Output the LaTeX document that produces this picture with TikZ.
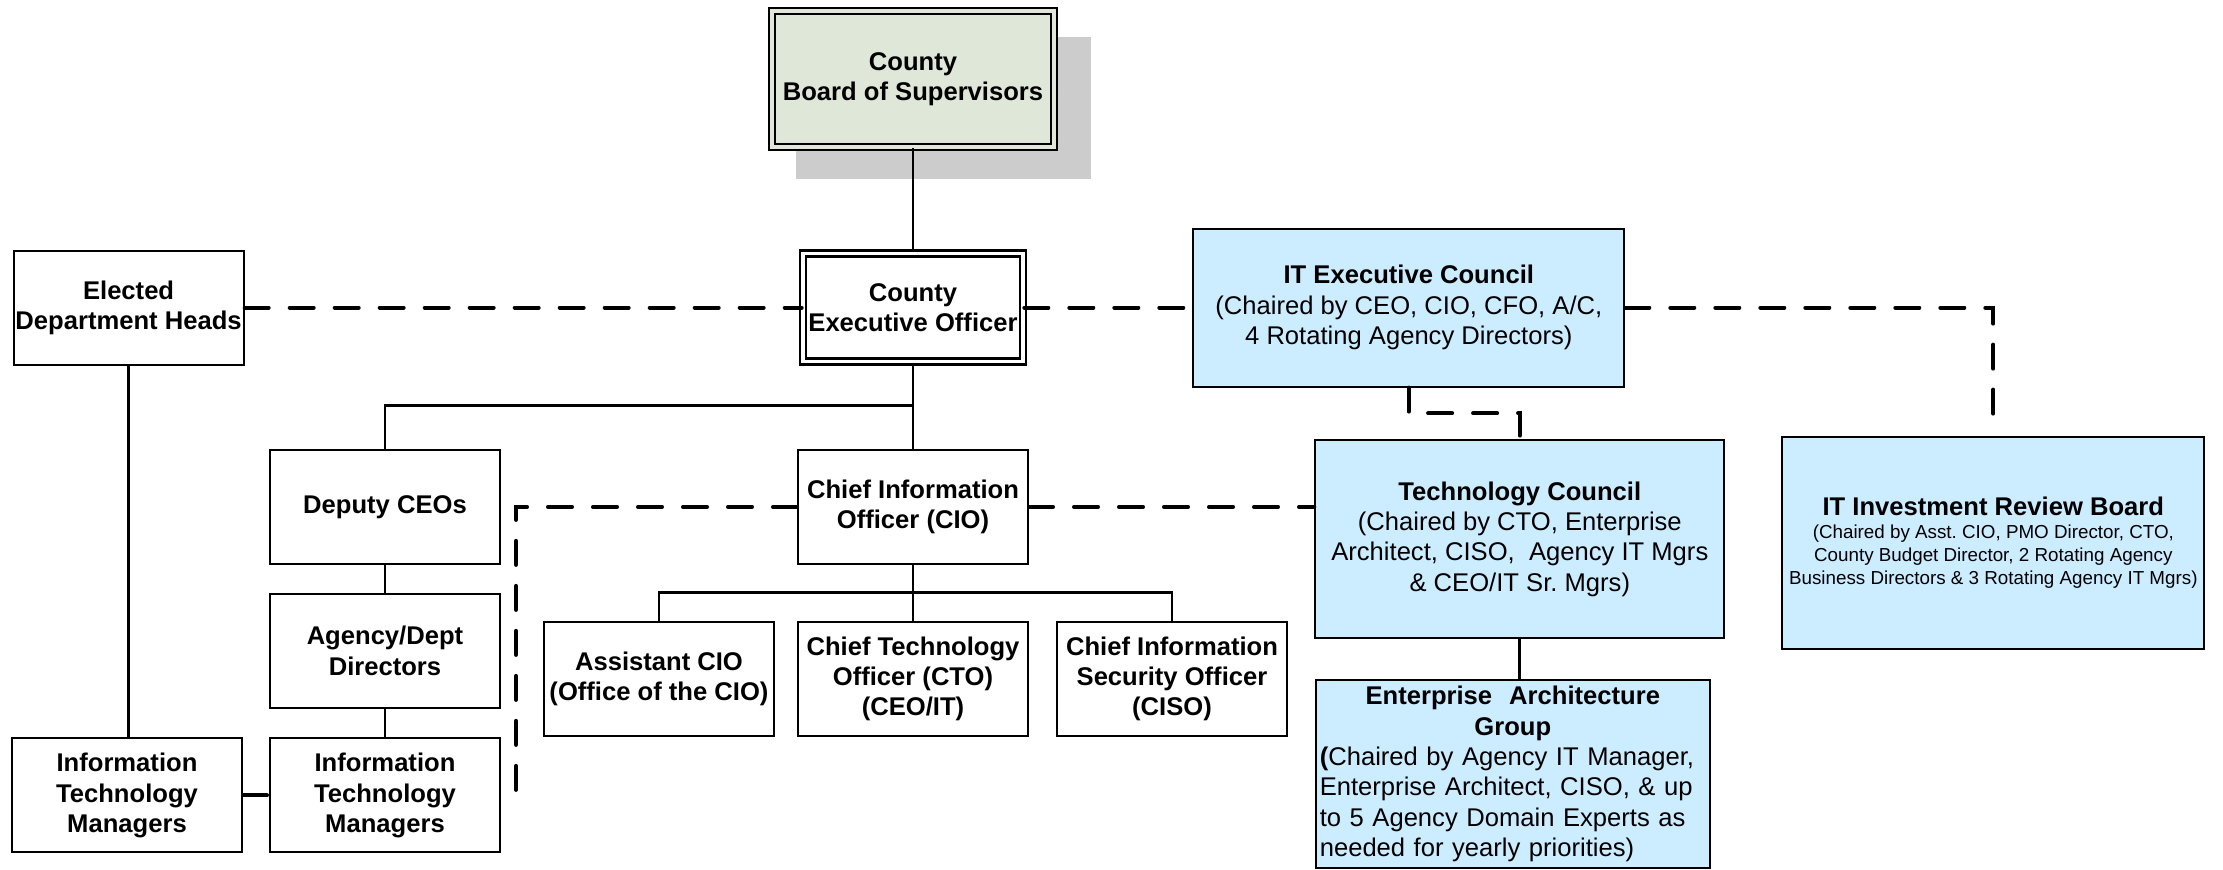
\documentclass[tikz,border=0pt]{standalone}
\usepackage{fontspec}
\setmainfont{Liberation Sans}
\usetikzlibrary{positioning, shadows, calc}

\definecolor{boardgreen}{RGB}{223,231,216}
\definecolor{councilblue}{RGB}{204,236,255}
\definecolor{shadowgray}{RGB}{204,204,204}

\frenchspacing

\begin{document}
\begin{tikzpicture}[
        font=\fontsize{12.8}{15.2}\selectfont\bfseries,
        box/.style={draw, line width=1pt, align=center, inner sep=1pt, minimum width=115pt, minimum height=57pt},
        dblbox/.style={box, line width=1.3pt, double distance=1.6pt},
        council/.style={box, fill=councilblue, font=\fontsize{12.8}{15.2}\selectfont\mdseries},
        conn/.style={draw, line width=1.4pt},
        dashline/.style={draw, line width=2pt, line cap=round, dash pattern=on 12pt off 10.5pt}
    ]

    \useasboundingbox (0,0) rectangle (1111.5pt,-435pt);

    % Leitung
    \node (board) [dblbox, double=boardgreen, fill=boardgreen, minimum width=141pt, minimum height=68pt,
        drop shadow={shadow xshift=14.5pt, shadow yshift=-14pt, shadow scale=1.045, fill=shadowgray, opacity=1}]
        at (456.5pt,-39.5pt) {County\\Board of Supervisors};

    \node (ceo) [dblbox, double=white, minimum width=110pt, minimum height=54pt, below=52pt of board] {County\\Executive Officer};

    \node (elected) [box, left=278.5pt of ceo] {Elected\\Department Heads};

    \node (iec) [council, minimum width=215.5pt, minimum height=79pt, right=84pt of ceo] {\textbf{IT Executive Council}\\(Chaired by CEO, CIO, CFO, A/C,\\4 Rotating Agency Directors)};

    % Linke Seite
    \node (cio) [box, below=43pt of ceo] {Chief Information\\Officer (CIO)};
    \node (deputy) [box, left=148pt of cio] {Deputy CEOs};
    \node (agency) [box, below=14pt of deputy] {Agency/Dept\\Directors};
    \node (itmr) [box, below=14.3pt of agency] {Information\\Technology\\Managers};
    \node (itml) [box, left=13pt of itmr] {Information\\Technology\\Managers};

    % CIO-Bereich
    \node (cto) [box, below=28pt of cio] {Chief Technology\\Officer (CTO)\\(CEO/IT)};
    \node (asst) [box, left=11pt of cto] {Assistant CIO\\(Office of the CIO)};
    \node (ciso) [box, right=13.5pt of cto] {Chief Information\\Security Officer\\(CISO)};

    % Gremien
    \node (tc) [council, minimum width=204.5pt, minimum height=99pt, below=25.7pt of iec.south, xshift=55.5pt] {\textbf{Technology Council}\\(Chaired by CTO, Enterprise\\Architect, CISO,\ \ Agency IT Mgrs\\\& CEO/IT Sr. Mgrs)};

    \node (irb) [council, minimum width=211pt, minimum height=106pt, text width=211pt, align=flush center, inner sep=0pt, right=28pt of tc, yshift=-1.8pt] {\textbf{IT Investment Review Board}\\{\fontsize{9.4}{11.4}\selectfont (Chaired by Asst. CIO, PMO Director, CTO,\\County Budget Director, 2 Rotating Agency\\Business Directors \& 3 Rotating Agency IT Mgrs)\par}};

    \node (eag) [council, minimum width=197pt, minimum height=94pt, text width=193pt, align=left, below=20pt of tc, xshift=-3.5pt] {{\centering\bfseries Enterprise\ \ Architecture\\Group\par}\textbf{(}Chaired by Agency IT Manager,\\Enterprise Architect, CISO, \& up\\to 5 Agency Domain Experts as\\needed for yearly priorities)};

    % Verbindungen
    \draw[conn] (board) -- (ceo);
    \draw[conn] (ceo) -- (cio);
    \draw[conn] ($(ceo.south)!.5!(cio.north)$) -| (deputy);
    \draw[conn] (deputy) -- (agency);
    \draw[conn] (agency) -- (itmr);
    \draw[conn] (elected.south) -- (elected.south |- itml.north);
    \draw[conn] (cio) -- (cto);
    \draw[conn] (asst) |- ($(cio.south)!.5!(cto.north)$) -| (ciso);
    \draw[conn] (tc.south) -- (tc.south |- eag.north);

    \draw[dashline] (elected) -- (ceo);
    \draw[dashline] (ceo.east) -- (ceo.east -| iec.west);
    \draw[dashline] (iec.east) -| ([yshift=3pt]irb.north);
    \draw[dashline] (iec.south) |- ($(iec.south)!.5!(tc.north)$) -| (tc.north);
    \draw[dashline] (cio.east) -- (cio.east -| tc.west);
    \draw[dashline] (cio.west) -| ([xshift=7.5pt]itmr.east) -- (itmr.east);
    \draw[dashline] (itml) -- (itmr);

\end{tikzpicture}
\end{document}
